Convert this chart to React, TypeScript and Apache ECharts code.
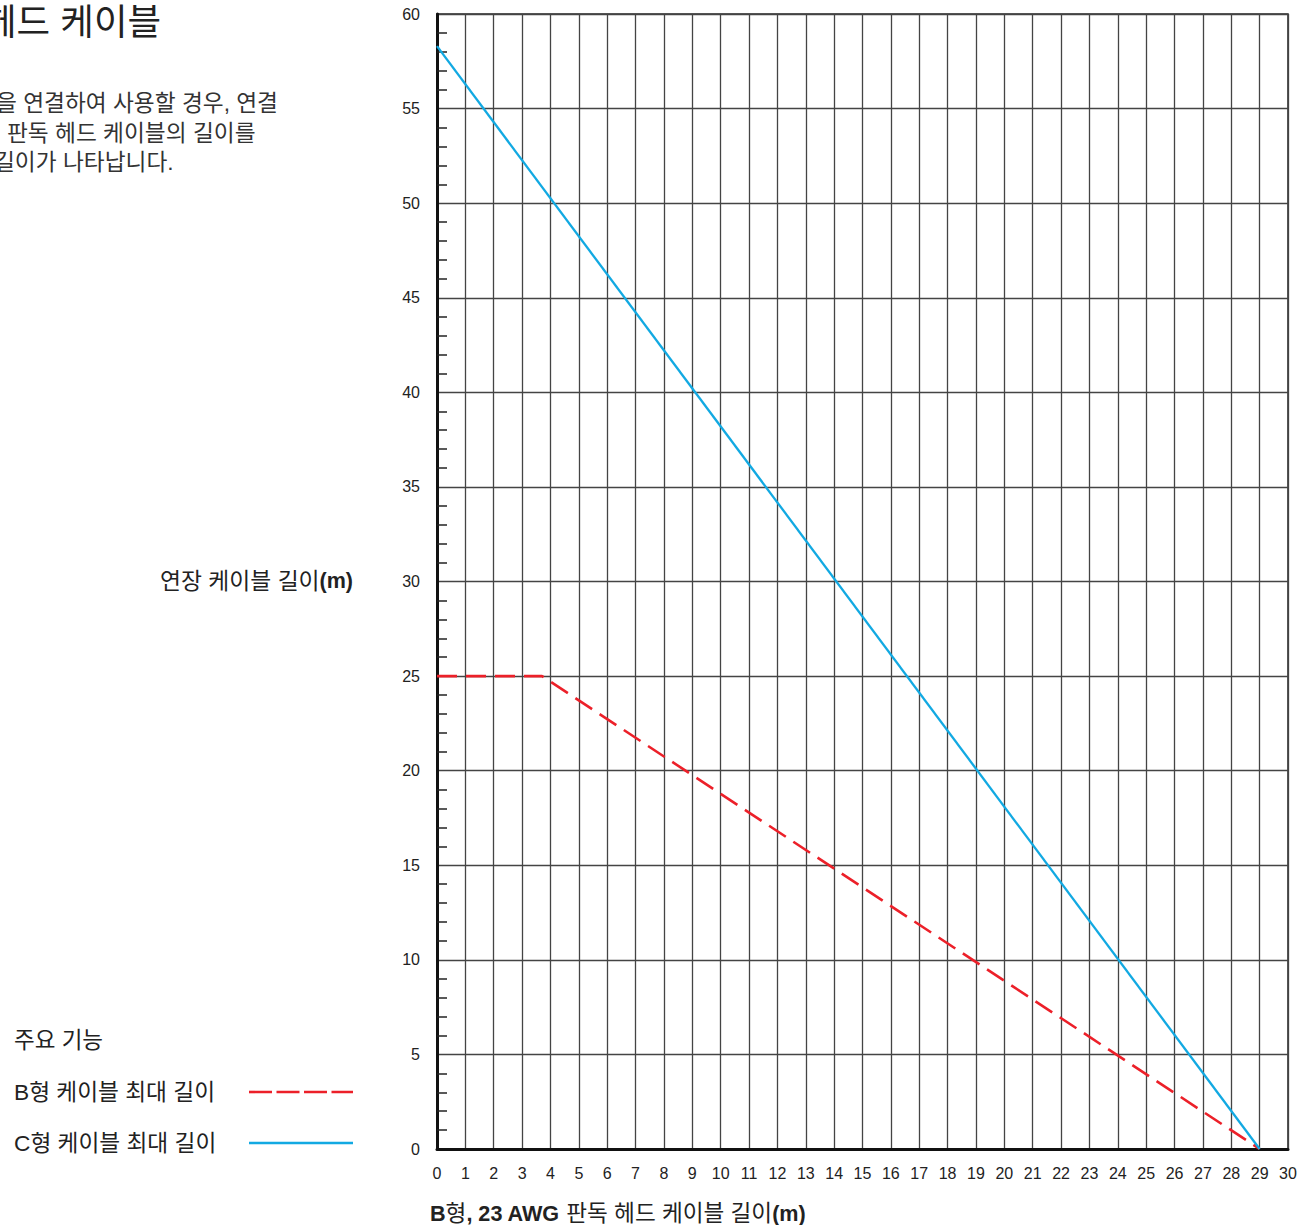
import React, { useEffect, useRef } from "react";
import * as echarts from "echarts";

// Axis ranges / ticks
const xMin = 0;
const xMax = 30;
const xStep = 1;
const yMin = 0;
const yMax = 60;
const yStep = 5;

// Series data: [B-type read head cable length (m), extension cable length (m)]
const cableB: number[][] = [
  [0, 25],
  [3.7, 25],
  [29, 0],
];
const cableC: number[][] = [
  [0, 58.3],
  [29, 0],
];

const seriesNames = ["B형 케이블 최대 길이", "C형 케이블 최대 길이"];
const titleText = "헤드 케이블";
const descLines = ["을 연결하여 사용할 경우, 연결", "판독 헤드 케이블의 길이를", "길이가 나타납니다."];
const legendTitle = "주요 기능";
const yName = "연장 케이블 길이";
const xNamePrefix = "B";
const xNameKo1 = "형";
const xNameBold = ", 23 AWG";
const xNameKo2 = " 판독 헤드 케이블 길이";
const unit = "(m)";

const FONT = "'Liberation Sans', 'Noto Sans CJK KR', sans-serif";
const RED = "#ec2029";
const BLUE = "#12a9e2";
const INK = "#222";

export default function App() {
  const ref = useRef<HTMLDivElement>(null);
  useEffect(() => {
    document.body.style.margin = "0";
    const chart = echarts.init(ref.current!, null, { renderer: "svg" });
    chart.setOption({
      animation: false,
      backgroundColor: "#fff",
      textStyle: { fontFamily: FONT },
      grid: {
        left: 437,
        right: 26,
        top: 14,
        bottom: 76,
        show: true,
        borderColor: "#222",
        borderWidth: 1.5,
      },
      xAxis: {
        type: "value",
        min: xMin,
        max: xMax,
        interval: xStep,
        axisLine: { show: true, onZero: false, lineStyle: { color: "#111", width: 3 } },
        axisTick: { show: false },
        axisLabel: { fontSize: 16, color: INK, margin: 16, fontFamily: FONT },
        splitLine: { show: true, lineStyle: { color: "#444", width: 1.3 } },
      },
      yAxis: {
        type: "value",
        min: yMin,
        max: yMax,
        interval: yStep,
        axisLine: { show: true, onZero: false, lineStyle: { color: "#111", width: 3 } },
        axisTick: { show: false, inside: true },
        minorTick: { show: true, splitNumber: 5, length: 10, lineStyle: { color: "#222", width: 1.5 } },
        minorSplitLine: { show: false },
        axisLabel: { fontSize: 16, color: INK, margin: 17, fontFamily: FONT },
        splitLine: { show: true, lineStyle: { color: "#444", width: 1.3 } },
      },
      series: [
        {
          name: seriesNames[0],
          type: "line",
          data: cableB,
          symbol: "none",
          lineStyle: { color: RED, width: 2.6, type: [20, 9] },
          z: 3,
        },
        {
          name: seriesNames[1],
          type: "line",
          data: cableC,
          symbol: "none",
          lineStyle: { color: BLUE, width: 2.3 },
          z: 4,
        },
      ],
      graphic: [
        {
          type: "text",
          x: -17,
          y: 22,
          style: { text: titleText, fontSize: 36.5, fill: INK, fontFamily: FONT, textVerticalAlign: "middle" },
        },
        ...descLines.map((t, i) => ({
          type: "text",
          x: i === 0 ? -4 : i === 1 ? 7 : -6,
          y: 103 + i * 29.5,
          style: {
            text: t,
            fontSize: 22.7,
            fill: "#333",
            fontFamily: FONT,
            textVerticalAlign: "middle",
          },
        })),
        {
          type: "text",
          x: 353,
          y: 581,
          style: {
            text: `{a|${yName}}{b|${unit}}`,
            align: "right",
            verticalAlign: "middle",
            rich: {
              a: { fontSize: 22.8, fill: INK, fontFamily: FONT },
              b: { fontSize: 21.5, fill: INK, fontFamily: FONT, fontWeight: "bold" },
            },
          },
        },
        {
          type: "text",
          x: 430,
          y: 1213,
          style: {
            text: `{b|${xNamePrefix}}{a|${xNameKo1}}{b|${xNameBold}}{a|${xNameKo2}}{b|${unit}}`,
            align: "left",
            verticalAlign: "middle",
            rich: {
              a: { fontSize: 22.6, fill: INK, fontFamily: FONT },
              b: { fontSize: 21.6, fill: INK, fontFamily: FONT, fontWeight: "bold" },
            },
          },
        },
        {
          type: "text",
          x: 14,
          y: 1040,
          style: { text: legendTitle, fontSize: 22.5, fill: INK, fontFamily: FONT, textVerticalAlign: "middle" },
        },
        {
          type: "text",
          x: 14,
          y: 1092,
          style: { text: seriesNames[0], fontSize: 22.7, fill: INK, fontFamily: FONT, textVerticalAlign: "middle" },
        },
        {
          type: "line",
          shape: { x1: 249, y1: 1092, x2: 353, y2: 1092 },
          style: { stroke: RED, lineWidth: 2.6, lineDash: [23, 4.5] },
        },
        {
          type: "text",
          x: 14,
          y: 1143,
          style: { text: seriesNames[1], fontSize: 22.7, fill: INK, fontFamily: FONT, textVerticalAlign: "middle" },
        },
        {
          type: "line",
          shape: { x1: 249, y1: 1143, x2: 353, y2: 1143 },
          style: { stroke: BLUE, lineWidth: 2.6 },
        },
      ],
    });
    return () => chart.dispose();
  }, []);
  return (
    <div
      ref={ref}
      style={{ position: "absolute", left: 0, top: 0, width: 1314, height: 1225 }}
    />
  );
}
